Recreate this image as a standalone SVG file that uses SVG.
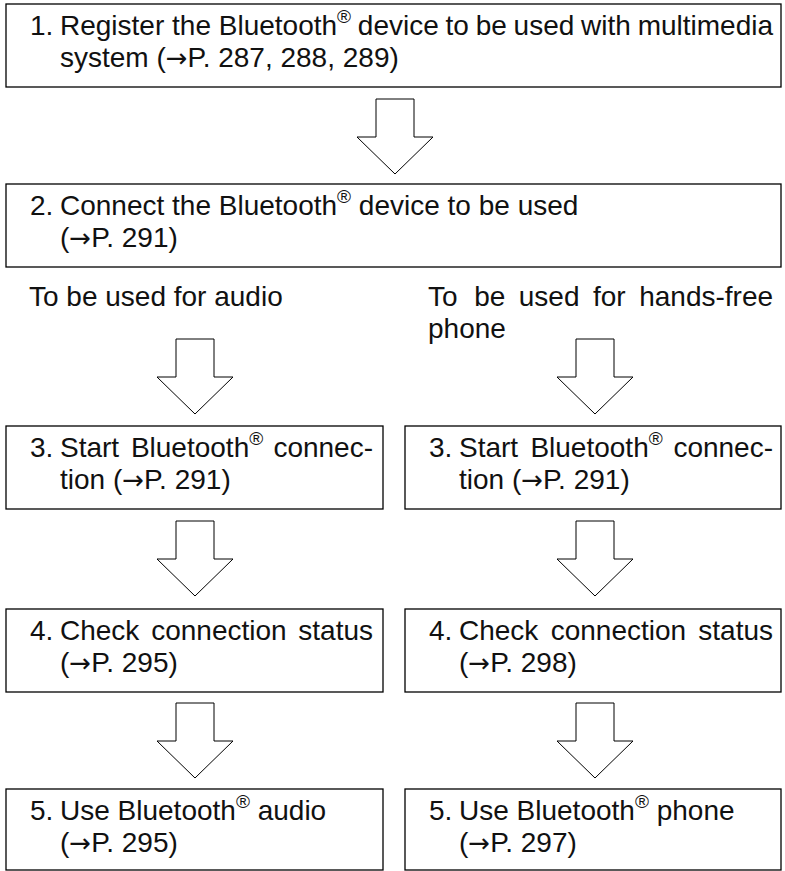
<svg xmlns="http://www.w3.org/2000/svg" width="785" height="871" viewBox="0 0 785 871">
<style>
.box{fill:#fff;stroke:#000;stroke-width:1.3}
.arr{fill:#fff;stroke:#000;stroke-width:1}
.t{font-family:"Liberation Sans",Arial,sans-serif;font-size:28px;fill:#111}
.sup{font-size:19px}
.ar{font-family:"DejaVu Sans",sans-serif;font-size:26px}
</style>
<rect width="785" height="871" fill="#fff"/>
<defs>
<polygon id="darrow" class="arr" points="-19,0 19,0 19,38 38,38 0,75 -38,38 -19,38"/>
</defs>
<g id="connectors">
<use href="#darrow" x="395" y="99"/>
<use href="#darrow" x="195" y="339"/>
<use href="#darrow" x="595" y="339"/>
<use href="#darrow" x="195" y="521"/>
<use href="#darrow" x="595" y="521"/>
<use href="#darrow" x="195" y="703"/>
<use href="#darrow" x="595" y="703"/>
</g>
<g id="step1">
<rect class="box" x="6" y="4" width="775" height="83"/>
<text class="t" y="35"><tspan x="30">1.</tspan><tspan x="60">Register the Bluetooth</tspan><tspan class="sup" dy="-12">®</tspan><tspan dy="12" word-spacing="-1"> device to be used with multimedia</tspan></text>
<text class="t" x="60" y="67">system (<tspan class="ar">→</tspan>P. 287, 288, 289)</text>
</g>
<g id="step2">
<rect class="box" x="6" y="184" width="775" height="83"/>
<text class="t" y="215"><tspan x="30">2.</tspan><tspan x="60">Connect the Bluetooth</tspan><tspan class="sup" dy="-12">®</tspan><tspan dy="12"> device to be used</tspan></text>
<text class="t" x="60" y="247">(<tspan class="ar">→</tspan>P. 291)</text>
</g>
<g id="label-audio">
<text class="t" x="29" y="306">To be used for audio</text>
</g>
<g id="label-phone">
<text class="t" y="306"><tspan x="428">To</tspan><tspan x="474.2">be</tspan><tspan x="518.8">used</tspan><tspan x="593">for</tspan><tspan x="639.2">hands-free</tspan></text>
<text class="t" x="428" y="338">phone</text>
</g>
<g id="step3-audio">
<rect class="box" x="6" y="426" width="377" height="83"/>
<text class="t" y="457"><tspan x="30">3.</tspan><tspan x="60">Start</tspan><tspan x="130.9">Bluetooth</tspan><tspan class="sup" dy="-12">®</tspan><tspan x="273.4" y="457">connec-</tspan></text>
<text class="t" x="60" y="489">tion (<tspan class="ar">→</tspan>P. 291)</text>
</g>
<g id="step3-phone">
<rect class="box" x="405" y="426" width="376" height="83"/>
<text class="t" y="457"><tspan x="429">3.</tspan><tspan x="459">Start</tspan><tspan x="530.4">Bluetooth</tspan><tspan class="sup" dy="-12">®</tspan><tspan x="673.4" y="457">connec-</tspan></text>
<text class="t" x="459" y="489">tion (<tspan class="ar">→</tspan>P. 291)</text>
</g>
<g id="step4-audio">
<rect class="box" x="6" y="609" width="377" height="83"/>
<text class="t" y="640"><tspan x="30">4.</tspan><tspan x="60">Check</tspan><tspan x="151.2">connection</tspan><tspan x="298.3">status</tspan></text>
<text class="t" x="60" y="672">(<tspan class="ar">→</tspan>P. 295)</text>
</g>
<g id="step4-phone">
<rect class="box" x="405" y="609" width="376" height="83"/>
<text class="t" y="640"><tspan x="429">4.</tspan><tspan x="459">Check</tspan><tspan x="550.7">connection</tspan><tspan x="698.3">status</tspan></text>
<text class="t" x="459" y="672">(<tspan class="ar">→</tspan>P. 298)</text>
</g>
<g id="step5-audio">
<rect class="box" x="6" y="789" width="377" height="81"/>
<text class="t" y="820"><tspan x="30">5.</tspan><tspan x="60">Use Bluetooth</tspan><tspan class="sup" dy="-12">®</tspan><tspan dy="12"> audio</tspan></text>
<text class="t" x="60" y="852">(<tspan class="ar">→</tspan>P. 295)</text>
</g>
<g id="step5-phone">
<rect class="box" x="405" y="789" width="376" height="81"/>
<text class="t" y="820"><tspan x="429">5.</tspan><tspan x="459">Use Bluetooth</tspan><tspan class="sup" dy="-12">®</tspan><tspan dy="12"> phone</tspan></text>
<text class="t" x="459" y="852">(<tspan class="ar">→</tspan>P. 297)</text>
</g>
</svg>
